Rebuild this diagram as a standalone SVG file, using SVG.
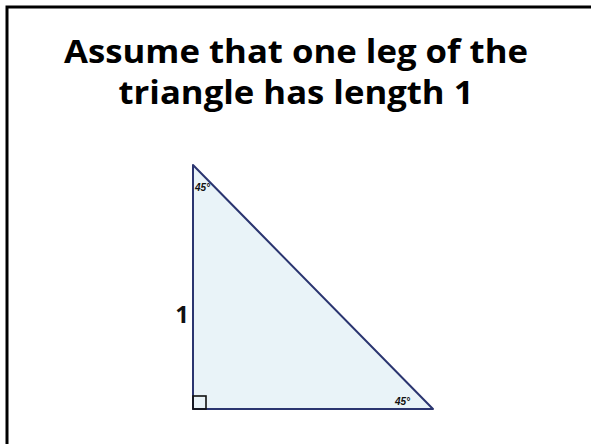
<svg xmlns="http://www.w3.org/2000/svg" width="591" height="444" viewBox="0 0 591 444">
<style>
.title{font-family:"Open Sans","Liberation Sans",sans-serif;font-weight:bold;font-size:32px;fill:#000;text-anchor:middle}
.ang{font-family:"Liberation Sans",sans-serif;font-weight:bold;font-style:italic;font-size:10px;fill:#111}
</style>
<rect width="591" height="444" fill="#fff"/>
<path d="M7,444 V7 H591" fill="none" stroke="#000" stroke-width="3"/>
<text class="title" x="296" y="63" textLength="464" lengthAdjust="spacingAndGlyphs">Assume that one leg of the</text>
<text class="title" x="296" y="104" textLength="355" lengthAdjust="spacingAndGlyphs">triangle has length 1</text>
<g id="triangle">
<polygon points="193,165 193,409 433,409" fill="#e9f3f8" stroke="#2b3570" stroke-width="2" stroke-linejoin="round"/>
<rect x="193" y="396" width="13" height="13" fill="none" stroke="#111" stroke-width="1.6"/>
<text class="ang" x="195" y="191">45°</text>
<text class="ang" x="395" y="405">45°</text>
</g>
<text x="182" y="323" font-family="Open Sans,Liberation Sans,sans-serif" font-weight="bold" font-size="24" text-anchor="middle" fill="#111">1</text>
</svg>
